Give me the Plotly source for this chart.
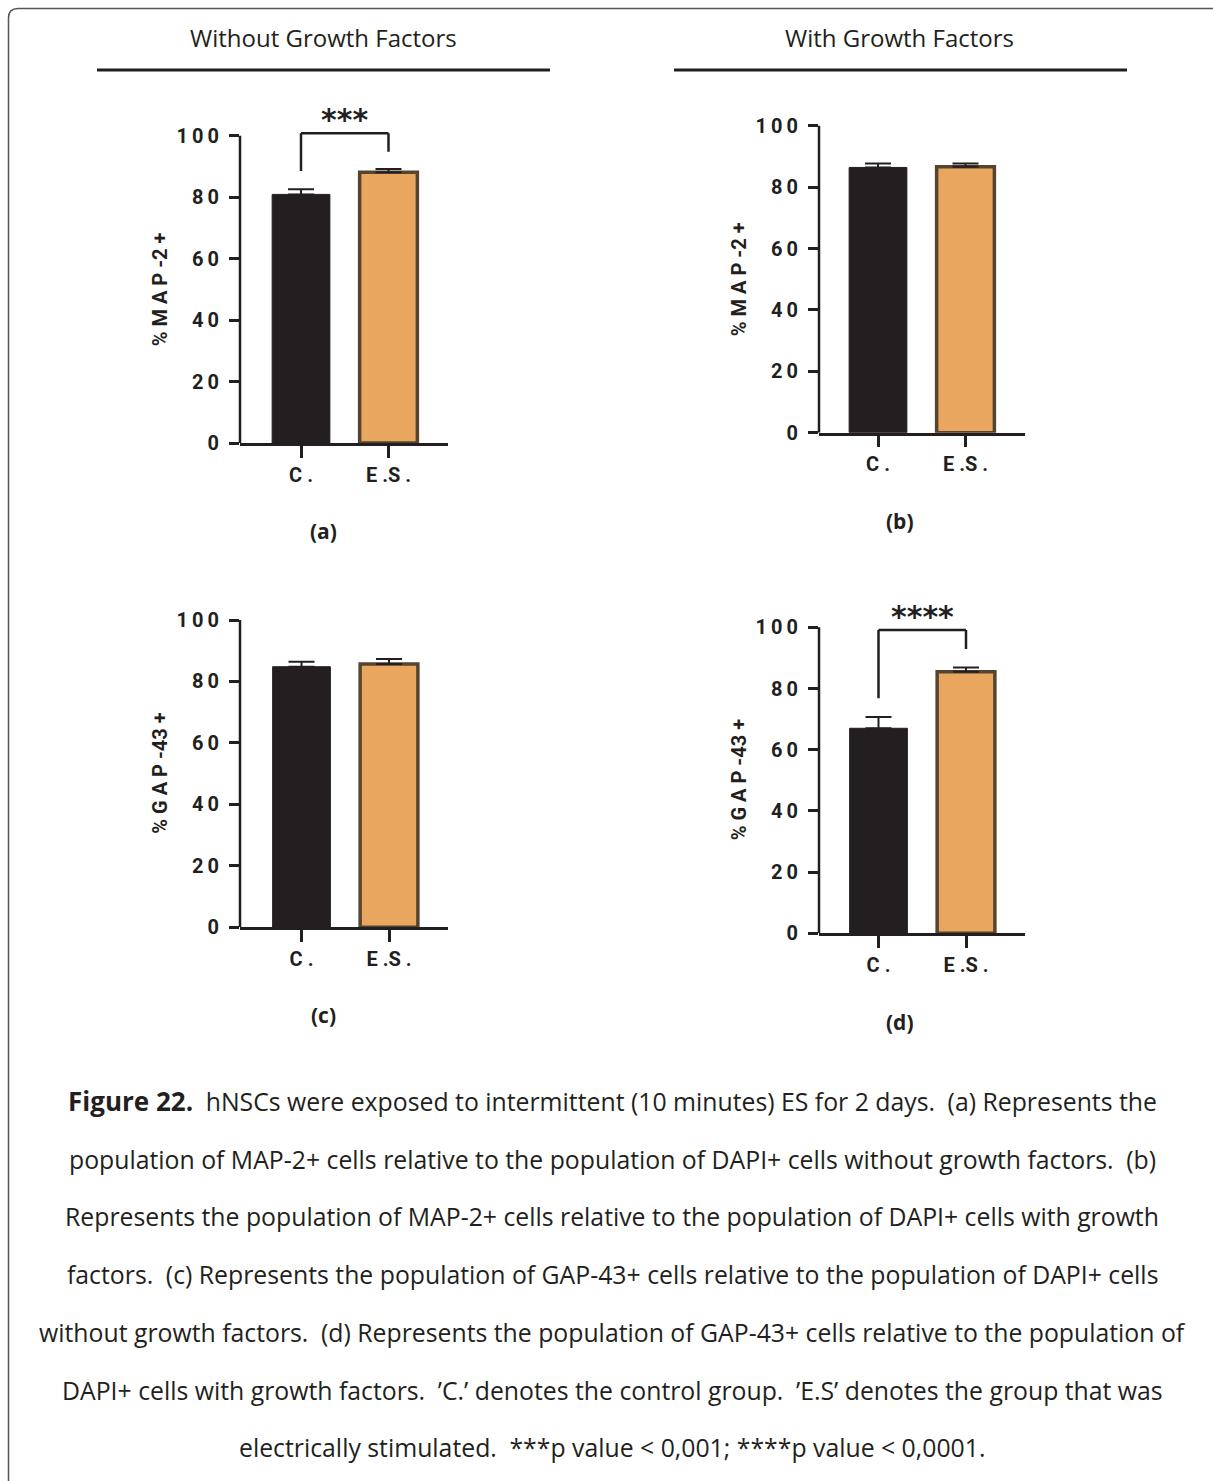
import plotly.graph_objects as go

W, H = 1213, 1481

# ---- data -------------------------------------------------------------
groups = ["C.", "E.S."]
group_ticktext = ["C .", "E .S ."]

map2_without = [80.9, 88.1]
map2_without_sem = [1.7, 1.1]
map2_with = [86.4, 86.6]
map2_with_sem = [1.3, 1.1]
gap43_without = [84.8, 85.7]
gap43_without_sem = [1.6, 1.6]
gap43_with = [67.0, 85.5]
gap43_with_sem = [3.7, 1.4]

y_tickvals = [0, 20, 40, 60, 80, 100]
y_ticktext = ["0", "2\u20090", "4\u20090", "6\u20090", "8\u20090", "1\u20090\u20090"]

column_titles = ["Without Growth Factors", "With Growth Factors"]
panel_letters = ["(a)", "(b)", "(c)", "(d)"]
y_titles = ["% M A P -2 +", "% M A P -2 +", "% G A P -43 +", "% G A P -43 +"]

# significance brackets: (panel, bracket top, left leg end, right leg end, star y, label)
brackets = [
    (0, 100.8, 88.5, 94.8, 105.4, "***"),
    (3, 99.1, 76.8, 92.9, 103.6, "****"),
]

SP = " \u2005"  # wider gap after a sentence
caption_lines = [
    "<span style='font-size:26px'><b>Figure 22.</b></span>" + SP +
    "hNSCs were exposed to intermittent (10 minutes) ES for 2 days." + SP + "(a) Represents the",
    "population of MAP-2+ cells relative to the population of DAPI+ cells without growth factors." + SP + "(b)",
    "Represents the population of MAP-2+ cells relative to the population of DAPI+ cells with growth",
    "factors." + SP + "(c) Represents the population of GAP-43+ cells relative to the population of DAPI+ cells",
    "without growth factors." + SP + "(d) Represents the population of GAP-43+ cells relative to the population of",
    "DAPI+ cells with growth factors." + SP + "\u2019C.\u2019 denotes the control group." + SP +
    "\u2019E.S\u2019 denotes the group that was",
    "electrically stimulated." + SP + "***p value < 0,001; ****p value < 0,0001.",
]

values = [map2_without, map2_with, gap43_without, gap43_with]
sems = [map2_without_sem, map2_with_sem, gap43_without_sem, gap43_with_sem]

# ---- styling / layout -----------------------------------------------------
INK = "#231f20"
ORANGE = "#e8a65e"
BROWN = "#55442f"
AX_FONT = "Roboto, Arial, sans-serif"
TXT_FONT = "Open Sans, Liberation Sans, Arial, sans-serif"

def px_x(x):
    return x / W

def px_y(y):
    return 1 - y / H

# pixel geometry of each panel: y-axis x, x-axis right end, first bar centre, y of 0, y of 100
panel_geom = [
    (240, 448, 301, 443.0, 135.7),
    (819, 1025, 878, 432.7, 125.7),
    (240, 448, 301.5, 927.3, 620.0),
    (819, 1025, 878.5, 933.3, 627.3),
]
PITCH = 87.5
YMAX = 112
BAR_W = 0.66

fig = go.Figure()
layout_axes = {}
shapes = []
annotations = []

for i, (ax_x, right_x, c_x, y0, y100) in enumerate(panel_geom):
    n = i + 1
    xa = "x" if n == 1 else f"x{n}"
    ya = "y" if n == 1 else f"y{n}"
    xkey = "xaxis" if n == 1 else f"xaxis{n}"
    ykey = "yaxis" if n == 1 else f"yaxis{n}"

    ppu = (y0 - y100) / 100.0
    r0 = -(c_x - ax_x) / PITCH
    r1 = r0 + (right_x - ax_x) / PITCH

    fig.add_trace(go.Bar(
        x=[0, 1], y=values[i], width=BAR_W,
        marker=dict(color=[INK, ORANGE], line=dict(color=[INK, BROWN], width=[1, 3.5])),
        error_y=dict(type="data", array=sems[i], arrayminus=[0, 0], symmetric=False,
                     color=INK, thickness=2, width=13),
        xaxis=xa, yaxis=ya, showlegend=False, hoverinfo="skip",
    ))

    layout_axes[xkey] = dict(
        domain=[px_x(ax_x), px_x(right_x)], range=[r0, r1], anchor=ya,
        tickvals=[0, 1], ticktext=group_ticktext,
        ticks="outside", ticklen=12, tickwidth=2.5, tickcolor=INK,
        showline=True, linewidth=2.5, linecolor=INK,
        showgrid=False, zeroline=False, fixedrange=True,
        tickfont=dict(family=AX_FONT, size=20, color=INK, weight="bold"),
    )
    layout_axes[ykey] = dict(
        domain=[px_y(y0), px_y(y0 - YMAX * ppu)], range=[0, YMAX], anchor=xa,
        tickvals=y_tickvals, ticktext=y_ticktext,
        ticks="outside", ticklen=10, tickwidth=2.5, tickcolor=INK,
        ticklabelstandoff=6,
        showline=False, showgrid=False, zeroline=False, fixedrange=True,
        tickfont=dict(family=AX_FONT, size=20, color=INK, weight="bold"),
    )
    # y-axis spine, stopping at 100
    shapes.append(dict(type="line", xref=f"{xa} domain", yref=ya,
                       x0=0, x1=0, y0=0, y1=100,
                       line=dict(color=INK, width=2.5), layer="above"))

    # axis title
    annotations.append(dict(
        text=y_titles[i], textangle=-90, xref="paper", yref="paper",
        x=px_x(ax_x - 80), y=px_y((y0 + y100) / 2), xanchor="center", yanchor="middle",
        showarrow=False, font=dict(family=AX_FONT, size=20, color=INK, weight="bold"),
    ))

for (p, top, lleg, rleg, sy, label) in brackets:
    n = p + 1
    xa = "x" if n == 1 else f"x{n}"
    ya = "y" if n == 1 else f"y{n}"
    for (xa0, ya0, xa1, ya1) in [(0, lleg, 0, top), (0, top, 1, top), (1, top, 1, rleg)]:
        shapes.append(dict(type="line", xref=xa, yref=ya, x0=xa0, y0=ya0, x1=xa1, y1=ya1,
                           line=dict(color=INK, width=2.5)))
    annotations.append(dict(
        text=label, xref=xa, yref=ya, x=0.5, y=sy, xanchor="center", yanchor="middle",
        showarrow=False, font=dict(family="DejaVu Sans, sans-serif", size=30, color=INK, weight="bold"),
    ))

# column headers and rules
for title, cx, (lx, rx) in zip(column_titles, [323, 900], [(97, 550), (674, 1127)]):
    annotations.append(dict(
        text=title, xref="paper", yref="paper", x=px_x(cx), y=px_y(37),
        xanchor="center", yanchor="middle", showarrow=False,
        font=dict(family=TXT_FONT, size=24, color=INK),
    ))
    shapes.append(dict(type="line", xref="paper", yref="paper",
                       x0=px_x(lx), x1=px_x(rx), y0=px_y(70), y1=px_y(70),
                       line=dict(color=INK, width=3)))

# panel letters
for letter, (lx, ly) in zip(panel_letters, [(323, 531), (900, 521), (323, 1015), (900, 1022)]):
    annotations.append(dict(
        text=f"<b>{letter}</b>", xref="paper", yref="paper", x=px_x(lx), y=px_y(ly),
        xanchor="center", yanchor="middle", showarrow=False,
        font=dict(family=TXT_FONT, size=21, color=INK),
    ))

# caption
for k, line in enumerate(caption_lines):
    annotations.append(dict(
        text=line, xref="paper", yref="paper", x=px_x(612), y=px_y(1101 + k * 57.7),
        xanchor="center", yanchor="middle", showarrow=False,
        font=dict(family=TXT_FONT, size=24.8, color=INK),
    ))

# rounded page frame
frame = (f"M {px_x(8.5)},{px_y(1500)} L {px_x(8.5)},{px_y(18)} "
         f"Q {px_x(8.5)},{px_y(8.5)} {px_x(18)},{px_y(8.5)} L {px_x(1230)},{px_y(8.5)}")
shapes.append(dict(type="path", xref="paper", yref="paper", path=frame,
                   line=dict(color="#555555", width=1.5)))

fig.update_layout(
    width=W, height=H, margin=dict(l=0, r=0, t=0, b=0, autoexpand=False),
    paper_bgcolor="white", plot_bgcolor="white",
    shapes=shapes, annotations=annotations, showlegend=False,
    **layout_axes,
)

fig.write_html("out.html")
